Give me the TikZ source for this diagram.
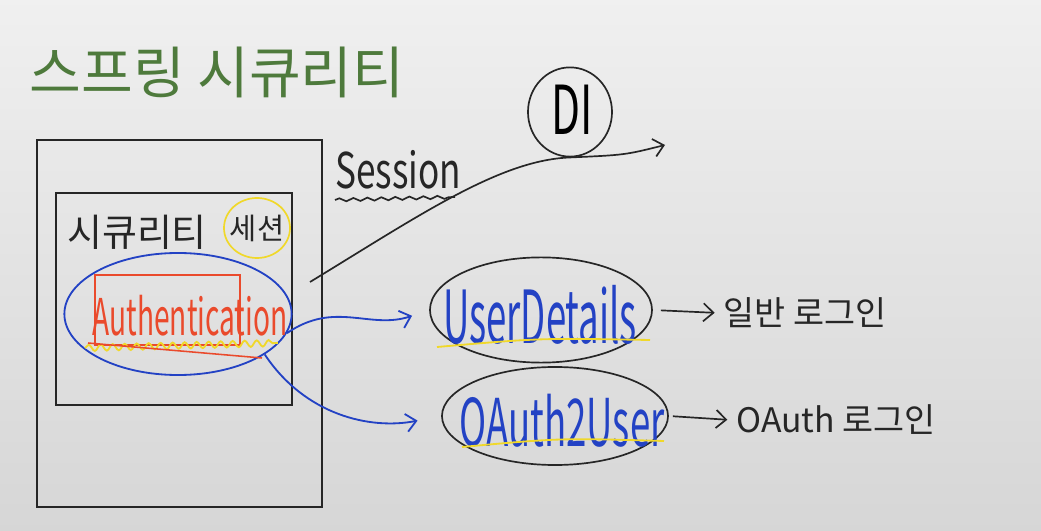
\documentclass[tikz,border=0pt]{standalone}
\usepackage{fontspec}
\setmainfont{Noto Sans CJK KR}
\usepackage{graphicx}
\usetikzlibrary{shapes.geometric,arrows.meta,decorations.pathmorphing}

\definecolor{penGreen}{HTML}{4E7A3C}
\definecolor{penBlue}{HTML}{2342C4}
\definecolor{penRed}{HTML}{EA4A2C}
\definecolor{penYellow}{HTML}{F0D82A}
\definecolor{penBlack}{HTML}{262626}

\newcommand{\tallText}[2]{\scalebox{1}[#1]{#2}}

\tikzset{
  pen/.style={line width=1.2pt, draw=penBlack},
  bluepen/.style={line width=1.3pt, draw=penBlue},
  yellowpen/.style={line width=1.3pt, draw=penYellow},
  redpen/.style={line width=1.1pt, draw=penRed},
  bubble/.style={ellipse, inner sep=0pt, line width=1.2pt},
}

\begin{document}
\begin{tikzpicture}[x=0.025cm,y=-0.025cm,
  >={Straight Barb[length=2.5mm,width=4.5mm]}]

% Tafel
\shade[top color=white!94!black, bottom color=white!84!black]
(0,0) rectangle (1041,531);
\useasboundingbox (0,0) rectangle (1041,531);

% Titel
\node[text=penGreen, font=\fontsize{40}{44}\selectfont] (title)
at (217,72) {스프링 시큐리티};

% Kaesten
\draw[pen] (37,140) rectangle (322,507);
\draw[pen] (56,193) rectangle (292,405);

\node[text=penBlack, font=\fontsize{27}{30}\selectfont] (secu)
at (137,232) {시큐리티};

\node[bubble, draw=penYellow, minimum width=1.65cm, minimum height=1.5cm] (sess)
at (257,228) {};
\node[text=penBlack, font=\fontsize{21}{24}\selectfont] (sesstxt)
at (sess) {세션};

% Authentication
\node[bubble, bluepen, minimum width=5.68cm, minimum height=3.05cm] (auth)
at (178,314) {};

\draw[redpen] (95,275) rectangle (240,345);

\node[text=penRed, font=\fontsize{20}{22}\selectfont] (authtxt)
at (190,316) {\tallText{1.8}{Authentication}};

\draw[yellowpen, decorate,
  decoration={snake, amplitude=0.08cm, segment length=0.3cm}]
(85,348) -- (278,343);
\draw[redpen] (88,343) -- (262,358);

% Session
\node[text=penBlack, font=\fontsize{25}{28}\selectfont] (sessiontxt)
at (398,170) {\tallText{1.4}{Session}};

\draw[pen, decorate,
  decoration={snake, amplitude=0.04cm, segment length=0.35cm}]
(335,200) -- (455,197);

\node[bubble, pen, minimum width=2.1cm, minimum height=2.23cm] (di)
at (570,112) {};
\node[font=\fontsize{30}{32}\selectfont] (ditxt)
at (572,110) {\tallText{1.6}{DI}};

\coordinate (sesStart) at (310,282);
\coordinate (sesEnd) at (665,145);

\draw[pen, ->] (sesStart)
.. controls (420,215) and (500,160) .. (di.south)
.. controls (625,155) .. (sesEnd);

% UserDetails / OAuth2User
\node[bubble, pen, minimum width=5.55cm, minimum height=2.63cm] (ud)
at (541,310) {};
\node[text=penBlue, font=\fontsize{26}{28}\selectfont] (udtxt)
at (540,315) {\tallText{2}{UserDetails}};

\draw[yellowpen] (437,347) .. controls (540,338) .. (650,340);

\node[bubble, pen, minimum width=5.65cm, minimum height=2.45cm] (oa)
at (555,416) {};
\node[text=penBlue, font=\fontsize{26}{28}\selectfont] (oatxt)
at (562,421) {\tallText{1.8}{OAuth2User}};

\draw[yellowpen] (462,447) .. controls (560,438) .. (664,441);

\node[text=penBlack, font=\fontsize{24}{26}\selectfont] (ilban)
at (805,313) {일반 로그인};

\node[text=penBlack, font=\fontsize{24}{26}\selectfont] (ologin)
at (836,420) {OAuth 로그인};

% Pfeile
\draw[bluepen, ->, shorten >=0.45cm] (auth.-10)
.. controls (335,300) and (370,330) .. (ud.west);

\draw[bluepen, ->, shorten >=0.6cm] (auth.-25)
.. controls (305,415) and (370,430) .. (oa.west);

\draw[pen, ->, shorten <=0.2cm, shorten >=0.1cm] (ud.east) -- (ilban.west);
\draw[pen, ->, shorten <=0.1cm, shorten >=0.1cm] (oa.east) -- (ologin.west);

\end{tikzpicture}
\end{document}
